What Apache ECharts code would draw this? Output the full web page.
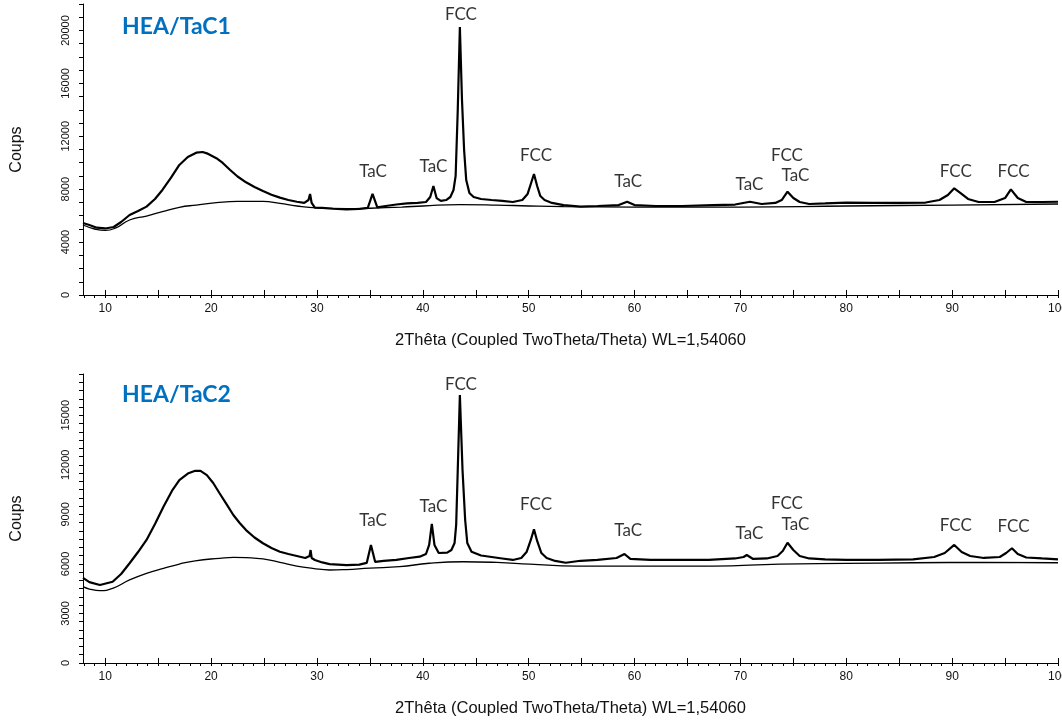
<!DOCTYPE html>
<html>
<head>
<meta charset="utf-8">
<title>HEA/TaC XRD</title>
<script src="https://cdn.jsdelivr.net/npm/echarts@6/dist/echarts.min.js"></script>
<style>
  html, body { margin: 0; padding: 0; background: #fff; }
  #chart { width: 1062px; height: 721px; }
</style>
</head>
<body>
<div id="chart"></div>
<script>
// [2theta, counts]
var tac1Measured = [
  [7.9,5440],[8.5,5290],[9.2,5090],[10.0,5030],[10.8,5140],[11.5,5520],[12.3,6050],[13.1,6350],
  [13.9,6680],[14.7,7260],[15.4,7940],[16.2,8850],[17.0,9830],[17.8,10430],[18.6,10760],[19.2,10810],
  [19.6,10710],[20.5,10340],[21.1,9980],[21.8,9450],[22.5,8960],[23.3,8520],[24.1,8170],[24.9,7860],
  [25.7,7580],[26.5,7360],[27.3,7180],[28.1,7050],[28.8,6960],[29.2,7180],[29.35,7640],[29.5,6960],
  [29.8,6600],[30.5,6580],[31.5,6520],[32.8,6480],[34.0,6500],[34.8,6580],[35.25,7640],[35.7,6620],
  [36.5,6730],[37.5,6840],[38.5,6920],[39.5,6960],[40.3,7030],[40.7,7410],[41.0,8240],[41.3,7330],
  [41.7,7110],[42.2,7180],[42.6,7410],[42.9,7940],[43.1,9000],[43.3,13990],[43.5,20260],[43.7,14740],
  [43.9,10960],[44.1,8690],[44.4,7710],[44.8,7410],[45.5,7260],[46.5,7180],[47.5,7110],[48.5,7030],
  [49.4,7180],[49.9,7640],[50.2,8390],[50.5,9150],[50.8,8240],[51.1,7480],[51.5,7180],[52.2,6960],
  [53.3,6800],[54.9,6680],[56.5,6730],[58.5,6800],[59.3,7050],[60.0,6800],[62.0,6730],[64.5,6730],
  [67.4,6800],[69.5,6840],[70.9,7050],[72.0,6880],[73.3,6960],[73.9,7180],[74.45,7810],[75.0,7330],
  [75.6,7030],[76.5,6880],[78.0,6920],[80.0,6980],[82.5,6960],[85.0,6960],[87.5,6990],[88.8,7180],
  [89.6,7560],[90.2,8070],[90.8,7710],[91.5,7260],[92.5,7030],[94.0,7030],[95.0,7330],[95.55,7990],
  [96.2,7330],[97.0,7030],[98.5,7030],[100,7050]
];
var tac1Background = [
  [7.9,5290],[9.0,4990],[10.0,4880],[11.0,5070],[12.3,5670],[13.9,5970],[15.4,6300],[17.0,6630],
  [18.6,6800],[20.5,6980],[22.5,7080],[24.9,7080],[26.5,6930],[28.1,6730],[30.0,6580],[32.8,6520],
  [35.0,6560],[38.0,6650],[40.0,6730],[43.5,6840],[47.0,6800],[50.0,6730],[53.3,6680],[60.0,6650],
  [70.0,6650],[80.0,6730],[90.0,6800],[100,6880]
];
var tac2Measured = [
  [7.9,5150],[8.5,4900],[9.5,4720],[10.7,4920],[11.5,5390],[12.3,6040],[13.1,6720],[13.9,7450],
  [14.7,8420],[15.5,9460],[16.3,10420],[17.0,11080],[17.8,11470],[18.5,11640],[19.0,11630],[19.6,11380],
  [20.2,10900],[20.8,10280],[21.5,9570],[22.1,8960],[22.7,8480],[23.3,8050],[24.1,7600],[24.9,7250],
  [25.7,6960],[26.5,6740],[27.3,6600],[28.1,6480],[28.9,6360],[29.3,6480],[29.4,6840],[29.5,6360],
  [29.8,6240],[30.5,6090],[31.2,5990],[32.8,5930],[34.0,5960],[34.7,6060],[35.1,7150],[35.5,6120],
  [36.3,6180],[37.5,6240],[38.7,6360],[39.7,6440],[40.3,6600],[40.6,7150],[40.85,8420],[41.1,7150],
  [41.5,6660],[42.3,6680],[42.7,6840],[43.0,7270],[43.15,8360],[43.3,11690],[43.5,16230],[43.75,11690],
  [44.0,8660],[44.2,7270],[44.6,6740],[45.5,6510],[46.5,6420],[47.5,6330],[48.5,6240],[49.3,6360],
  [49.8,6720],[50.2,7450],[50.5,8100],[50.8,7390],[51.2,6660],[51.7,6360],[52.5,6180],[53.5,6070],
  [54.9,6190],[56.5,6240],[58.3,6360],[59.05,6600],[59.6,6300],[61.5,6240],[64.3,6240],[67.0,6240],
  [69.5,6330],[70.3,6420],[70.6,6540],[71.2,6300],[72.5,6330],[73.5,6480],[74.0,6780],[74.45,7280],
  [75.0,6840],[75.6,6480],[76.5,6330],[78.0,6270],[80.0,6240],[83.0,6240],[86.3,6280],[88.3,6420],
  [89.3,6660],[90.2,7150],[90.9,6720],[91.7,6480],[93.0,6360],[94.5,6420],[95.1,6660],[95.65,6950],
  [96.2,6600],[97.0,6390],[98.5,6330],[100,6280]
];
var tac2Background = [
  [7.9,4620],[8.5,4480],[9.5,4380],[10.7,4520],[12.3,5030],[13.9,5430],[15.5,5730],[17.0,5990],
  [18.5,6190],[20.8,6340],[22.1,6400],[23.3,6380],[24.9,6300],[26.5,6100],[28.1,5870],[29.6,5730],
  [31.2,5630],[32.8,5660],[35.0,5750],[37.8,5830],[40.6,6040],[43.8,6130],[47.0,6090],[50.1,5990],
  [54.5,5870],[60.0,5870],[67.4,5870],[73.7,5990],[80.0,6030],[86.3,6070],[93.0,6090],[100,6070]
];

// phase labels: [text, 2theta, counts]
var tac1Peaks = [
  ['TaC',35.3,9320],['TaC',41.0,9750],['FCC',43.6,21170],['FCC',50.7,10580],['TaC',59.4,8570],
  ['TaC',70.85,8390],['FCC',74.4,10580],['TaC',75.2,9000],['FCC',90.35,9320],['FCC',95.8,9320]
];
var tac2Peaks = [
  ['TaC',35.3,8620],['TaC',41.0,9460],['FCC',43.6,16890],['FCC',50.7,9570],['TaC',59.4,8010],
  ['TaC',70.85,7850],['FCC',74.4,9670],['TaC',75.2,8400],['FCC',90.35,8310],['FCC',95.8,8250]
];

var xLabels = [10, 20, 30, 40, 50, 60, 70, 80, 90, 100];
var xMidTicks = [10, 15, 20, 25, 30, 35, 40, 45, 50, 55, 60, 65, 70, 75, 80, 85, 90, 95, 100];
var xSmallTicks = [];
for (var t = 8; t <= 100; t++) xSmallTicks.push(t);
var y1Labels = [0, 4000, 8000, 12000, 16000, 20000];
var y2Labels = [0, 3000, 6000, 9000, 12000, 15000];

var axisColor = '#000';
var textColor = '#111';

function xMain(gridIndex) {
  return {
    type: 'value', gridIndex: gridIndex, min: 7.9, max: 100,
    axisLine: { show: true, onZero: false, lineStyle: { color: axisColor, width: 1 } },
    axisTick: { show: true, customValues: xSmallTicks, length: 3, lineStyle: { color: axisColor } },
    axisLabel: { customValues: xLabels, color: textColor, fontSize: 12, fontFamily: 'Liberation Sans', margin: 8 },
    splitLine: { show: false },
    name: '2Thêta (Coupled TwoTheta/Theta) WL=1,54060',
    nameLocation: 'middle', nameGap: 37,
    nameTextStyle: { color: textColor, fontSize: 16.5, fontFamily: 'Liberation Sans' }
  };
}
function xOverlay(gridIndex) {
  return {
    type: 'value', gridIndex: gridIndex, min: 7.9, max: 100,
    axisLine: { show: false },
    axisTick: { show: true, customValues: xMidTicks, length: 5, lineStyle: { color: axisColor } },
    axisLabel: { show: false },
    splitLine: { show: false }
  };
}
function yAxis(gridIndex, max, step, labels) {
  return {
    type: 'value', gridIndex: gridIndex, min: 0, max: max, interval: step,
    axisLine: { show: true, lineStyle: { color: axisColor, width: 1 } },
    axisTick: { show: true, length: 4, lineStyle: { color: axisColor } },
    axisLabel: {
      rotate: 90, color: textColor, fontSize: 11, fontFamily: 'Liberation Sans', margin: 12,
      formatter: function (v) { return labels.indexOf(v) >= 0 ? String(v) : ''; }
    },
    splitLine: { show: false },
    name: 'Coups', nameLocation: 'middle', nameGap: 58, nameRotate: 90,
    nameTextStyle: { color: textColor, fontSize: 16, fontFamily: 'Liberation Sans' }
  };
}
function lineSeries(data, xi, yi, width, smooth) {
  return {
    type: 'line', xAxisIndex: xi, yAxisIndex: yi, data: data,
    showSymbol: false, smooth: smooth, silent: true,
    lineStyle: { color: '#000', width: width }
  };
}
function peakSeries(peaks, xi, yi) {
  return {
    type: 'scatter', xAxisIndex: xi, yAxisIndex: yi, symbolSize: 0, silent: true,
    data: peaks.map(function (p) { return { name: p[0], value: [p[1], p[2]] }; }),
    label: {
      show: true, position: 'inside', formatter: '{b}',
      color: '#000', fontSize: 17, fontFamily: 'Lato'
    }
  };
}

var chart = echarts.init(document.getElementById('chart'));
chart.setOption({
  animation: false,
  backgroundColor: '#fff',
  title: [
    { text: 'HEA/TaC1', left: 122, top: 15, padding: 0,
      textStyle: { color: '#0070C0', fontSize: 23, fontWeight: 'bold', fontFamily: 'Lato' } },
    { text: 'HEA/TaC2', left: 122, top: 383, padding: 0,
      textStyle: { color: '#0070C0', fontSize: 23, fontWeight: 'bold', fontFamily: 'Lato' } }
  ],
  grid: [
    { left: 83, right: 4, top: 4, height: 291, containLabel: false, outerBoundsMode: 'none' },
    { left: 83, right: 4, top: 374, height: 289, containLabel: false, outerBoundsMode: 'none' }
  ],
  xAxis: [xMain(0), xOverlay(0), xMain(1), xOverlay(1)],
  yAxis: [yAxis(0, 22000, 1000, y1Labels), yAxis(1, 17500, 500, y2Labels)],
  series: [
    lineSeries(tac1Background, 0, 0, 1.3, true),
    lineSeries(tac1Measured, 0, 0, 2.2, false),
    peakSeries(tac1Peaks, 0, 0),
    lineSeries(tac2Background, 2, 1, 1.3, true),
    lineSeries(tac2Measured, 2, 1, 2.2, false),
    peakSeries(tac2Peaks, 2, 1)
  ]
});
</script>
</body>
</html>
